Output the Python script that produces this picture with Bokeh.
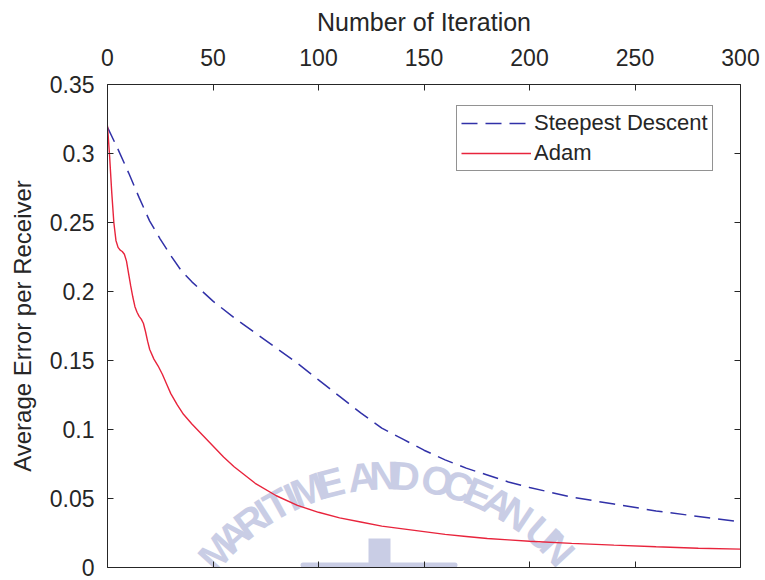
import math

from bokeh.plotting import figure
from bokeh.models import (LinearAxis, FixedTicker, CustomJSTickFormatter,
                          Legend, LegendItem, Label, BoxAnnotation)
from bokeh.embed import file_html
from bokeh.resources import INLINE

# ---- data -------------------------------------------------------------
ITER_SD = [0, 5, 10, 15, 20, 25, 30, 35, 40, 45, 50, 60, 70, 80, 90, 100,
           110, 120, 130, 140, 150, 160, 170, 180, 190, 200, 220, 240,
           260, 280, 300]
ERR_SD = [0.319, 0.303, 0.286, 0.268, 0.251, 0.238, 0.226, 0.215, 0.207,
          0.200, 0.193, 0.181, 0.170, 0.159, 0.148, 0.136, 0.124, 0.112,
          0.101, 0.093, 0.085, 0.078, 0.072, 0.067, 0.062, 0.058, 0.051,
          0.046, 0.041, 0.037, 0.033]

ITER_ADAM = [0, 1, 2, 3, 4, 5, 6, 7, 8, 9, 10, 11, 12, 13, 14, 15, 16, 17,
             18, 19, 20, 22, 24, 26, 28, 30, 33, 36, 40, 45, 50, 55, 60, 70,
             80, 90, 100, 110, 120, 130, 140, 150, 160, 170, 180, 190, 200,
             220, 240, 260, 280, 300]
ERR_ADAM = [0.320, 0.298, 0.272, 0.250, 0.237, 0.232, 0.230, 0.229, 0.227,
            0.222, 0.213, 0.204, 0.196, 0.189, 0.185, 0.182, 0.180, 0.177,
            0.171, 0.164, 0.158, 0.151, 0.146, 0.140, 0.133, 0.126, 0.118,
            0.111, 0.104, 0.096, 0.088, 0.080, 0.073, 0.061, 0.052, 0.045,
            0.040, 0.036, 0.033, 0.030, 0.028, 0.026, 0.024, 0.0225, 0.021,
            0.020, 0.019, 0.0175, 0.0162, 0.0150, 0.0140, 0.0133]

SERIES_NAMES = ["Steepest Descent", "Adam"]
X_TICKS = [0, 50, 100, 150, 200, 250, 300]
Y_TICKS = [0, 0.05, 0.1, 0.15, 0.2, 0.25, 0.3, 0.35]
Y_TICK_LABELS = ["0", "0.05", "0.1", "0.15", "0.2", "0.25", "0.3", "0.35"]
X_TITLE = "Number of Iteration"
Y_TITLE = "Average Error per Receiver"
WATERMARK = "MARITIME AND OCEAN UN"

# ---- style ------------------------------------------------------------
FONT = "Liberation Sans"
INK = "#262626"
BLUE = "#3131a8"
RED = "#e8243c"
WM_COLOR = "#c9cde5"

p = figure(width=765, height=580, x_range=(0, 300), y_range=(0, 0.35),
           x_axis_location="above", output_backend="svg",
           toolbar_location=None,
           min_border_left=107, min_border_right=25,
           min_border_top=84, min_border_bottom=13)
p.xgrid.visible = False
p.ygrid.visible = False
p.outline_line_color = None
p.background_fill_color = "white"
p.border_fill_color = "white"


def style_axis(ax, ticks):
    ax.ticker = FixedTicker(ticks=ticks)
    ax.axis_line_color = INK
    ax.axis_line_width = 1
    ax.major_tick_line_color = INK
    ax.major_tick_in = 6
    ax.major_tick_out = 0
    ax.minor_tick_line_color = None
    ax.major_label_text_font = FONT
    ax.major_label_text_font_size = "23px"
    ax.major_label_text_color = INK
    ax.axis_label_text_font = FONT
    ax.axis_label_text_font_style = "normal"
    ax.axis_label_text_color = INK


top = p.xaxis[0]
style_axis(top, X_TICKS)
top.axis_label = X_TITLE
top.axis_label_text_font_size = "25px"
top.major_label_standoff = 19
top.axis_label_standoff = 10

left = p.yaxis[0]
style_axis(left, Y_TICKS)
left.axis_label = Y_TITLE
left.axis_label_text_font_size = "24px"
left.major_label_overrides = dict(zip(Y_TICKS, Y_TICK_LABELS))
left.major_label_standoff = 13
left.axis_label_standoff = 11

# closed box: tick-only axes on the opposite sides
blank = CustomJSTickFormatter(code="return ''")
bottom = LinearAxis(formatter=blank)
style_axis(bottom, X_TICKS)
bottom.major_label_standoff = 0
p.add_layout(bottom, "below")
right = LinearAxis(formatter=blank)
style_axis(right, Y_TICKS)
right.major_label_standoff = 0
p.add_layout(right, "right")

# ---- faint watermark: lettering on an arc plus emblem -------------------
# arc centre and radius in frame screen units (origin at frame bottom-left)
arc_cx, arc_cy, arc_r = 281.0, -139.0, 231.0
wm_size = 40.0
wm_track = 0.80


def char_w(ch):
    if ch in "I ":
        return 0.32
    if ch in "MW":
        return 0.80
    return 0.68


phi = math.radians(48.0)
prev = None
for ch in WATERMARK:
    if prev is not None:
        step = (char_w(prev) + char_w(ch)) / 2 * wm_size * wm_track
        phi -= step / arc_r
    prev = ch
    if ch == " ":
        continue
    p.add_layout(Label(
        x=arc_cx - arc_r * math.sin(phi), y=arc_cy + arc_r * math.cos(phi),
        x_units="screen", y_units="screen", text=ch, angle=phi,
        text_align="center", text_baseline="middle",
        text_font=FONT, text_font_style="bold",
        text_font_size=f"{wm_size:.0f}px", text_color=WM_COLOR,
        level="underlay"))

for l, r, t, b, rad in [(261, 283, 29, 0, 0), (193, 350, 5, 0, 6)]:
    p.add_layout(BoxAnnotation(
        left=l, right=r, top=t, bottom=b,
        left_units="screen", right_units="screen",
        top_units="screen", bottom_units="screen",
        fill_color=WM_COLOR, fill_alpha=1.0, line_color=None,
        border_radius=rad, level="underlay"))

# ---- curves -----------------------------------------------------------
r_sd = p.line(ITER_SD, ERR_SD, line_color=BLUE, line_width=1.5,
              line_dash="16 8")
r_adam = p.line(ITER_ADAM, ERR_ADAM, line_color=RED, line_width=1.4)

legend = Legend(
    items=[LegendItem(label=SERIES_NAMES[0], renderers=[r_sd]),
           LegendItem(label=SERIES_NAMES[1], renderers=[r_adam])],
    location=(349, 396), margin=0, padding=4, spacing=4,
    glyph_width=70, glyph_height=26, label_height=26, label_standoff=3,
    label_text_font=FONT, label_text_font_size="22px",
    label_text_color=INK, border_line_color=INK, border_line_width=1,
    background_fill_color="white", background_fill_alpha=1.0)
p.add_layout(legend)

open("out.html", "w").write(file_html(p, INLINE))
